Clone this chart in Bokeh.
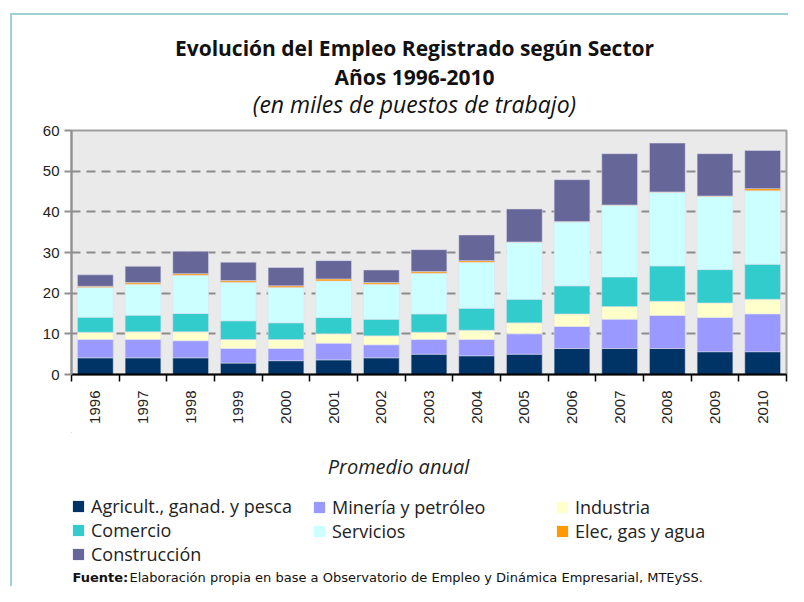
from math import pi
from bokeh.plotting import figure
from bokeh.layouts import column
from bokeh.models import Label, Legend, LegendItem, FixedTicker, Range1d
from bokeh.embed import file_html
from bokeh.resources import INLINE

years = [1996, 1997, 1998, 1999, 2000, 2001, 2002, 2003, 2004, 2005,
         2006, 2007, 2008, 2009, 2010]
agricultura = [4.1, 4.1, 4.1, 2.8, 3.4, 3.6, 4.1, 5.0, 4.6, 5.0, 6.4, 6.4, 6.4, 5.6, 5.6]
mineria = [4.5, 4.5, 4.2, 3.6, 3.0, 4.1, 3.2, 3.6, 4.0, 5.0, 5.4, 7.2, 8.1, 8.4, 9.3]
industria = [1.8, 1.9, 2.2, 2.2, 2.2, 2.3, 2.2, 1.8, 2.3, 2.7, 3.1, 3.1, 3.5, 3.6, 3.6]
comercio = [3.7, 4.1, 4.5, 4.6, 4.1, 4.0, 4.1, 4.5, 5.4, 5.8, 6.9, 7.3, 8.7, 8.2, 8.6]
servicios = [7.3, 7.6, 9.4, 9.5, 8.7, 9.0, 8.6, 10.0, 11.3, 14.0, 15.7, 17.6, 18.1, 18.0, 18.1]
elec = [0.3, 0.4, 0.4, 0.4, 0.4, 0.5, 0.4, 0.4, 0.4, 0.1, 0.1, 0.1, 0.1, 0.1, 0.5]
construccion = [2.8, 4.0, 5.5, 4.5, 4.5, 4.5, 3.1, 5.4, 6.3, 8.1, 10.3, 12.6, 12.0, 10.4, 9.4]

series_keys = ["agr", "min", "ind", "com", "serv", "elec", "con"]
series_names = ["Agricult., ganad. y pesca", "Minería y petróleo", "Industria",
                "Comercio", "Servicios", "Elec, gas y agua", "Construcción"]
colors = ["#003366", "#9999FF", "#FFFFCC", "#33CCCC", "#CCFFFF", "#FF9900", "#666699"]

title_lines = ["Evolución del Empleo Registrado según Sector", "Años 1996-2010",
               "(en miles de puestos de trabajo)"]
x_title = "Promedio anual"
source_bold = "Fuente:"
source_text = "Elaboración propia en base a Observatorio de Empleo y Dinámica Empresarial, MTEySS."
y_ticks = [0, 10, 20, 30, 40, 50, 60]

data = dict(year=years, agr=agricultura, min=mineria, ind=industria, com=comercio,
            serv=servicios, elec=elec, con=construccion)

FONT = "Open Sans"
C = "#9DD1D4"
W = 788
LEFT, RIGHT = 71, 2
TOP_H = 121
MAIN_TOP = 9
MAIN_H = MAIN_TOP + 244 + 58
BOT_Y0 = TOP_H + MAIN_H
BOT_H = 586 - BOT_Y0

line_v = "linear-gradient({c}, {c}) 10px 0px / 2px 100% no-repeat".format(c=C)
line_top = ("linear-gradient({c}, {c}) 10px 13px / 100% 2px no-repeat, "
            "linear-gradient({c}, {c}) 10px 13px / 2px 100% no-repeat").format(c=C)


def blank(h, y0, bg):
    f = figure(width=W, height=h, output_backend="svg", toolbar_location=None,
               x_range=Range1d(LEFT, W - RIGHT), y_range=Range1d(y0 + h, y0),
               x_axis_location=None, y_axis_location=None,
               min_border_left=LEFT, min_border_right=RIGHT,
               min_border_top=0, min_border_bottom=0)
    f.outline_line_color = None
    f.grid.visible = False
    f.background_fill_color = None
    f.border_fill_color = None
    f.styles = {"background": bg + ", white"}
    return f


# ---------------- titles ----------------
pt = blank(TOP_H, 0, line_top)
for txt, yy, style, size in [(title_lines[0], 47, "bold", "21px"),
                             (title_lines[1], 76, "bold", "21px"),
                             (title_lines[2], 103, "italic", "23px")]:
    pt.add_layout(Label(x=414, y=yy, text=txt, text_align="center", text_baseline="middle",
                        text_font=FONT, text_font_size=size, text_font_style=style,
                        text_color="#111111"))

# ---------------- main chart ----------------
p = figure(width=W, height=MAIN_H, output_backend="svg", toolbar_location=None,
           x_range=Range1d(years[0] - 0.5, years[-1] + 0.5), y_range=Range1d(0, 60),
           min_border_left=LEFT, min_border_right=RIGHT, min_border_top=MAIN_TOP,
           min_border_bottom=58)
p.styles = {"background": line_v + ", white"}
p.background_fill_color = "#EAEAEA"
p.border_fill_color = None
p.outline_line_color = "#A0A0A0"
p.outline_line_width = 2

renderers = p.vbar_stack(series_keys, x="year", width=0.75, source=data, color=colors,
                         line_color="#E0E0F0", line_alpha=0.5, line_width=1)

p.xaxis.ticker = FixedTicker(ticks=years,
                             minor_ticks=[y - 0.5 for y in years] + [years[-1] + 0.5])
p.xaxis.major_label_orientation = pi / 2
p.xaxis.major_tick_out = 0
p.xaxis.major_tick_in = 0
p.xaxis.minor_tick_out = 7
p.xaxis.minor_tick_in = 0
p.xaxis.minor_tick_line_color = "black"
p.xaxis.minor_tick_line_width = 1.5
p.xaxis.axis_line_color = "black"
p.xaxis.axis_line_width = 2
p.xaxis.major_label_text_font = "Liberation Sans"
p.xaxis.major_label_text_font_size = "15px"
p.xaxis.major_label_text_color = "#222222"
p.xaxis.major_label_standoff = 9

p.yaxis.ticker = FixedTicker(ticks=y_ticks)
p.yaxis.minor_tick_line_color = None
p.yaxis.major_tick_out = 7
p.yaxis.major_tick_in = 0
p.yaxis.major_tick_line_color = "#909090"
p.yaxis.major_tick_line_width = 2
p.yaxis.axis_line_color = "#909090"
p.yaxis.axis_line_width = 2
p.yaxis.major_label_text_font = "Liberation Sans"
p.yaxis.major_label_text_font_size = "15px"
p.yaxis.major_label_text_color = "#222222"
p.yaxis.major_label_standoff = 5

p.xgrid.grid_line_color = None
p.ygrid.ticker = FixedTicker(ticks=[10, 20, 30, 40, 50])
p.ygrid.grid_line_color = "#8C8C8C"
p.ygrid.grid_line_width = 2
p.ygrid.grid_line_dash = "9 6"

# ---------------- axis title, legend, source ----------------
pb = blank(BOT_H, BOT_Y0, line_v)
pb.add_layout(Label(x=398, y=466, text=x_title, text_align="center", text_baseline="middle",
                    text_font=FONT, text_font_size="20px", text_font_style="italic",
                    text_color="#222222"))

# legend swatches: zero-size, off-screen; only their legend entries are shown
swatches = [pb.vbar(x=[-5000], top=[-5000], bottom=[-5000], width=0, fill_color=c,
                    line_color=None) for c in colors]
cols = [[0, 3, 6], [1, 4], [2, 5]]
col_x = [71, 312, 555]
for ci, idxs in enumerate(cols):
    items = [LegendItem(label=series_names[i], renderers=[swatches[i]]) for i in idxs]
    bottom_px = 565.5 if len(idxs) == 3 else 542.5
    leg = Legend(items=items, location=(col_x[ci] - LEFT, BOT_Y0 + BOT_H - bottom_px),
                 orientation="vertical", border_line_color=None, background_fill_alpha=0,
                 padding=0, margin=0, spacing=0, glyph_width=14, glyph_height=14,
                 label_height=23, label_standoff=6, label_text_font=FONT,
                 label_text_font_size="18px", label_text_color="#222222")
    pb.add_layout(leg, "center")

pb.add_layout(Label(x=72, y=577, text=source_bold, text_baseline="middle",
                    text_font="DejaVu Sans", text_font_size="13px", text_font_style="bold",
                    text_color="#111111"))
pb.add_layout(Label(x=129, y=577, text=source_text, text_baseline="middle",
                    text_font="DejaVu Sans", text_font_size="13px", text_color="#111111"))

layout = column(pt, p, pb, spacing=0)
open("out.html", "w").write(file_html(layout, INLINE))
